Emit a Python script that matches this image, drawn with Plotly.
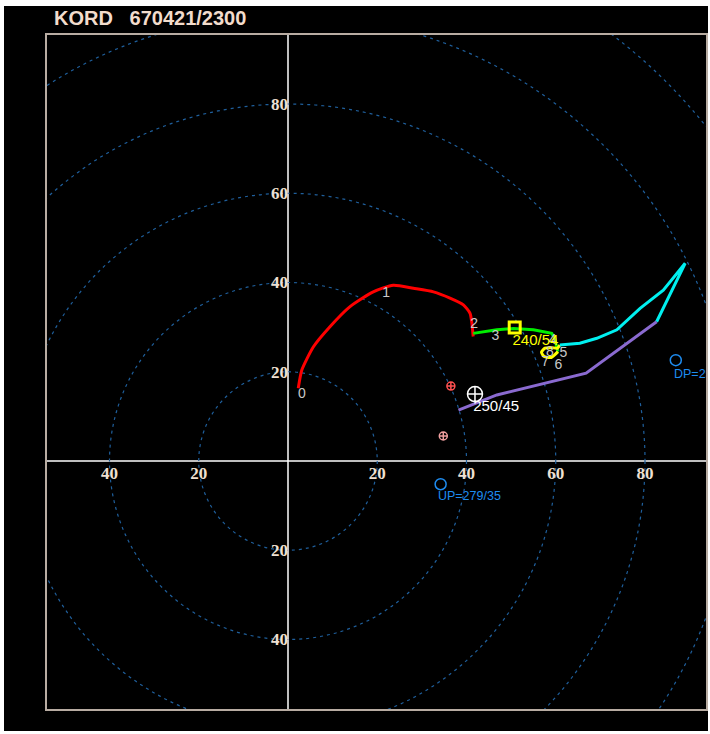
import plotly.graph_objects as go

# ---------------- data ----------------
title_text = "KORD\u00a0\u00a0\u00a0670421/2300"

red_u = [2.3, 3.1, 5.7, 9.4, 13.9, 19.1, 23.6, 28.1, 32.6, 36.3, 39.3, 40.8, 41.2, 41.5]
red_v = [16.3, 20.4, 25.6, 30.1, 34.6, 37.9, 39.4, 38.7, 37.9, 36.5, 35.0, 33.1, 30.9, 27.9]

green_u = [41.5, 46.8, 50.5, 55.0, 59.1, 59.8, 60.2, 60.5]
green_v = [28.6, 29.4, 29.7, 29.4, 28.6, 27.5, 25.6, 24.5]

yellow_u = [60.5, 59.0, 57.4, 56.8, 57.6, 59.1, 60.4, 60.9]
yellow_v = [24.5, 23.2, 23.4, 24.4, 25.3, 25.4, 25.3, 26.0]

cyan_u = [60.9, 65.4, 69.2, 73.7, 78.9, 84.1, 89.0, 82.6]
cyan_v = [26.0, 26.4, 27.5, 29.4, 34.2, 38.3, 44.3, 31.2]

purple_u = [82.6, 66.8, 46.8, 38.2]
purple_v = [31.2, 19.7, 14.8, 11.4]

height_labels = ["0", "1", "2", "3", "4", "5", "6", "7", "8"]
height_u = [3.1, 22.0, 41.7, 46.5, 59.3, 61.7, 60.6, 57.6, 58.7]
height_v = [14.8, 37.6, 30.5, 27.9, 27.0, 24.1, 21.4, 22.0, 24.4]

mean_wind_u, mean_wind_v, mean_wind_text = 41.9, 15.0, "250/45"
storm_u, storm_v, storm_text = 50.8, 29.9, "240/54"
right_mover = (36.5, 16.8)
left_mover = (34.8, 5.6)
up_u, up_v, up_text = 34.2, -5.2, "UP=279/35"
dp_u, dp_v, dp_text = 86.9, 22.6, "DP=253/58"

ring_radii = [20, 40, 60, 80, 100, 120, 140]
x_tickvals = [-40, -20, 20, 40, 60, 80]
x_ticktext = ["40", "20", "20", "40", "60", "80"]
y_tickvals = [80, 60, 40, 20, -20, -40]
y_ticktext = ["80", "60", "40", "20", "20", "40"]

# ---------------- layout geometry ----------------
W, H = 710, 734
L, R, T, B = 46, 3, 34, 24
S = 4.4625
ox, oy = 288, 461
xmin, xmax = (L - ox) / S, (W - R - ox) / S
ymax, ymin = (oy - T) / S, (oy - (H - B)) / S
pw, ph = W - L - R, H - T - B

def px2paper_x(px):
    return (px - L) / pw

def px2paper_y(py):
    return ((H - B) - py) / ph

fig = go.Figure()

# hodograph segments
for u, v, c, shp in [(red_u, red_v, "#ff0000", "spline"), (green_u, green_v, "#00ee00", "linear"),
                     (yellow_u, yellow_v, "#ffff00", "spline"), (cyan_u, cyan_v, "#00f0f0", "linear"),
                     (purple_u, purple_v, "#8a6ad0", "linear")]:
    fig.add_trace(go.Scatter(x=u, y=v, mode="lines",
                             line=dict(color=c, width=3, shape=shp, smoothing=0.6),
                             hoverinfo="skip", showlegend=False))

# height labels
fig.add_trace(go.Scatter(x=height_u, y=height_v, mode="text", text=height_labels,
                         textfont=dict(color="#c8c8c8", size=14, family="Liberation Sans"),
                         textposition="middle center", showlegend=False, hoverinfo="skip"))

# markers
fig.add_trace(go.Scatter(x=[mean_wind_u], y=[mean_wind_v], mode="markers",
                         marker=dict(symbol="circle-cross-open", size=15, color="white",
                                     line=dict(width=1.5, color="white")),
                         showlegend=False, hoverinfo="skip"))
fig.add_trace(go.Scatter(x=[mean_wind_u - 0.4], y=[mean_wind_v - 2.9], mode="text", text=[mean_wind_text],
                         textposition="middle right",
                         textfont=dict(color="white", size=15, family="Liberation Sans"),
                         showlegend=False, hoverinfo="skip"))
fig.add_trace(go.Scatter(x=[storm_u], y=[storm_v], mode="markers",
                         marker=dict(symbol="square-open", size=11, color="#ffff00",
                                     line=dict(width=3, color="#ffff00")),
                         showlegend=False, hoverinfo="skip"))
fig.add_trace(go.Scatter(x=[storm_u - 0.5], y=[storm_v - 3.1], mode="text", text=[storm_text],
                         textposition="middle right",
                         textfont=dict(color="#ffff00", size=15, family="Liberation Sans"),
                         showlegend=False, hoverinfo="skip"))
fig.add_trace(go.Scatter(x=[right_mover[0]], y=[right_mover[1]], mode="markers",
                         marker=dict(symbol="circle-cross-open", size=8, color="#ff5050",
                                     line=dict(width=1.5, color="#ff5050")),
                         showlegend=False, hoverinfo="skip"))
fig.add_trace(go.Scatter(x=[left_mover[0]], y=[left_mover[1]], mode="markers",
                         marker=dict(symbol="circle-cross-open", size=8, color="#f0a0a0",
                                     line=dict(width=1.5, color="#f0a0a0")),
                         showlegend=False, hoverinfo="skip"))
fig.add_trace(go.Scatter(x=[up_u, dp_u], y=[up_v, dp_v], mode="markers",
                         marker=dict(symbol="circle-open", size=11, color="#1e8cf0",
                                     line=dict(width=1.5, color="#1e8cf0")),
                         showlegend=False, hoverinfo="skip"))
fig.add_trace(go.Scatter(x=[up_u - 0.6, dp_u - 0.4], y=[up_v - 2.9, dp_v - 3.3], mode="text",
                         text=[up_text, dp_text], textposition="middle right",
                         textfont=dict(color="#1e8cf0", size=12.5, family="Liberation Sans"),
                         cliponaxis=True, showlegend=False, hoverinfo="skip"))

# background, rings, axes, frame
shapes = []
shapes.append(dict(type="rect", xref="paper", yref="paper",
                   x0=px2paper_x(4), x1=px2paper_x(708), y0=px2paper_y(731), y1=px2paper_y(6),
                   fillcolor="black", line=dict(width=0), layer="below"))
for r in ring_radii:
    shapes.append(dict(type="circle", xref="x", yref="y", x0=-r, x1=r, y0=-r, y1=r,
                       line=dict(color="#1f5f9c", width=1.2, dash="3px,4px"), layer="below"))
shapes.append(dict(type="line", xref="paper", yref="y", x0=0, x1=1, y0=0, y1=0,
                   line=dict(color="white", width=1.5), layer="below"))
shapes.append(dict(type="line", xref="x", yref="paper", x0=0, x1=0, y0=0, y1=1,
                   line=dict(color="white", width=1.5), layer="below"))
shapes.append(dict(type="rect", xref="paper", yref="paper", x0=0, x1=1, y0=0, y1=1,
                   line=dict(color="#b8aca2", width=2), layer="above"))

tickfont = dict(color="#efe0d2", size=17, family="Liberation Serif")

fig.update_layout(
    width=W, height=H, autosize=False,
    margin=dict(l=L, r=R, t=T, b=B, pad=0),
    paper_bgcolor="white", plot_bgcolor="black",
    shapes=shapes,
    xaxis=dict(range=[xmin, xmax], showgrid=False, zeroline=False, showline=False,
               tickvals=x_tickvals, ticktext=[f"<b>{t}</b>" for t in x_ticktext],
               tickfont=tickfont, ticks="", anchor="free",
               position=(0 - ymin) / (ymax - ymin), fixedrange=True),
    yaxis=dict(range=[ymin, ymax], showgrid=False, zeroline=False, showline=False,
               tickvals=y_tickvals, ticktext=[f"<b>{t}</b>" for t in y_ticktext],
               tickfont=tickfont, ticks="", anchor="free",
               position=(0 - xmin) / (xmax - xmin), fixedrange=True),
    annotations=[dict(text=f"<b>{title_text}</b>", xref="paper", yref="paper",
                      x=px2paper_x(52), y=px2paper_y(18), xanchor="left", yanchor="middle",
                      showarrow=False,
                      font=dict(color="#f2dccc", size=20, family="Liberation Sans"))],
)

fig.write_html("out.html", config={"displayModeBar": False},
               post_script="document.body.style.margin='0px';document.body.style.overflow='hidden';")
